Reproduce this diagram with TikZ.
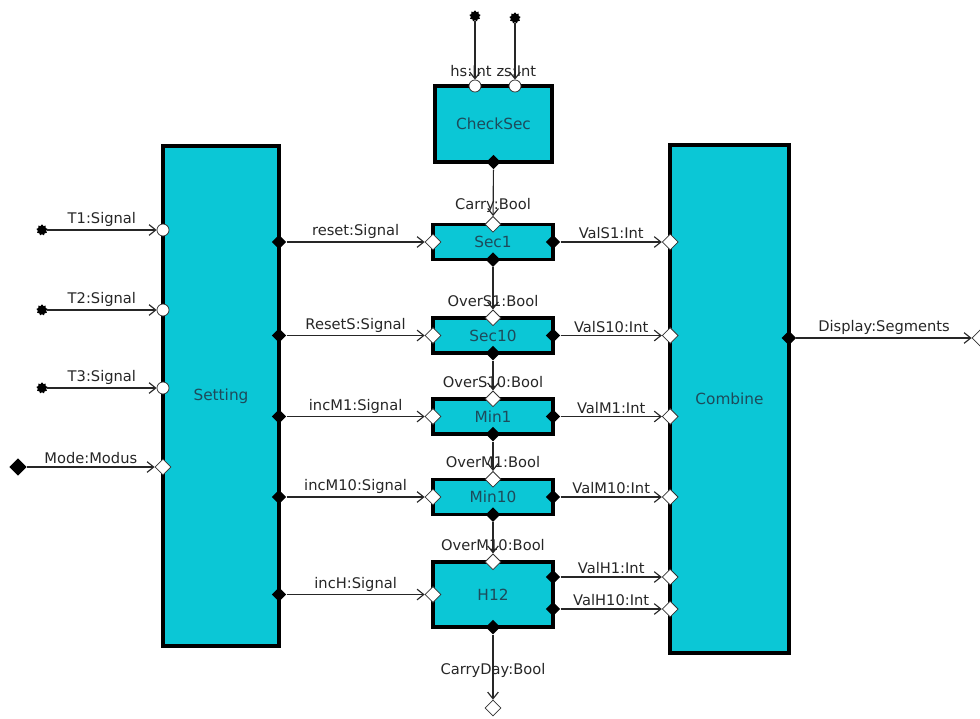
\documentclass[tikz,border=0pt]{standalone}
\usepackage{fontspec}
\setsansfont{DejaVu Sans}
\usepackage{tikz}
\usetikzlibrary{arrows.meta,positioning,shapes.geometric}
\definecolor{cyanfill}{HTML}{0BC7D6}
\definecolor{boxtext}{HTML}{1D4B5B}
\tikzset{
  block/.style={draw=black,line width=2.6pt,fill=cyanfill,text=boxtext,outer sep=0pt,inner sep=0pt,font=\sffamily\fontsize{11.5}{13}\selectfont},
  wire/.style={draw=black!85,line width=.85pt,-{Straight Barb[length=5pt,width=8pt]}},
  inport/.style={diamond,draw=black!80,fill=white,line width=.55pt,minimum width=12pt,minimum height=12pt,inner sep=0pt},
  outport/.style={diamond,fill=black,minimum width=11pt,minimum height=11pt,inner sep=0pt},
  inpin/.style={circle,draw=black!80,fill=white,line width=.55pt,minimum size=9pt,inner sep=0pt},
  src/.style={star,star points=9,star point ratio=1.35,fill=black,minimum size=8.5pt,inner sep=0pt},
  lbl/.style={font=\sffamily\fontsize{11}{13}\selectfont,text=black!85,inner sep=2pt}
}

\begin{document}
\begin{tikzpicture}[x=.75pt,y=-.75pt]
  \useasboundingbox (0,0) rectangle (980,718);

  % blocks
  \node[block,minimum width=87pt,minimum height=375pt] (setting) at (221,396) {Setting};
  \node[block,minimum width=89pt,minimum height=381pt] (combine) at (729.5,399) {Combine};
  \node[block,minimum width=88pt,minimum height=57pt] (checksec) at (493.5,124) {CheckSec};
  \foreach \n/\y/\t in {sec1/242/Sec1,sec10/335.5/Sec10,min1/416.5/Min1,min10/497/Min10}
    \node[block,minimum width=90pt,minimum height=26.5pt] (\n) at (493,\y) {\t};
  \node[block,minimum width=90pt,minimum height=49pt] (h12) at (493,594.5) {H12};

  % ports of the counters
  \foreach \n in {sec1,sec10,min1,min10,h12} {
    \node[inport] (\n-in) at (\n.west) {};
    \node[inport] (\n-top) at (\n.north) {};
    \node[outport] (\n-bot) at (\n.south) {};
  }
  \foreach \n in {sec1,sec10,min1,min10}
    \node[outport] (\n-out) at (\n.east) {};
  \node[outport] (h12-out1) at (h12.east |- 0,577) {};
  \node[outport] (h12-out2) at (h12.east |- 0,609) {};

  % buttons into Setting
  \foreach \i/\y in {1/230,2/310,3/388} {
    \node[src] (src\i) at (42,\y) {};
    \node[inpin] (t\i) at (setting.west |- src\i) {};
    \draw[wire] (src\i) -- node[lbl,above] (t\i-lbl) {T\i:Signal} (t\i);
  }
  \node[outport,minimum width=13pt,minimum height=13pt] (modesrc) at (18,467) {};
  \node[inport] (mode) at (setting.west |- modesrc) {};
  \draw[wire] (modesrc) -- node[lbl,above] (mode-lbl) {Mode:Modus} (mode);

  % Setting -> counters
  \foreach \n/\t in {sec1/reset:Signal,sec10/ResetS:Signal,min1/incM1:Signal,min10/incM10:Signal,h12/incH:Signal} {
    \node[outport] (set-\n) at (setting.east |- \n-in) {};
    \draw[wire] (set-\n) -- node[lbl,above] (lbl-\n) {\t} (\n-in);
  }

  % counters -> Combine
  \foreach \n/\t in {sec1-out/ValS1:Int,sec10-out/ValS10:Int,min1-out/ValM1:Int,min10-out/ValM10:Int,h12-out1/ValH1:Int,h12-out2/ValH10:Int} {
    \node[inport] (cmb-\n) at (combine.west |- \n) {};
    \draw[wire] (\n) -- node[lbl,above] (lbl-\n) {\t} (cmb-\n);
  }

  % CheckSec and the carry chain
  \node[src] (hs-src) at (475,16) {};
  \node[src] (zs-src) at (515,18) {};
  \node[inpin] (hs) at (checksec.north -| hs-src) {};
  \node[inpin] (zs) at (checksec.north -| zs-src) {};
  \draw[wire] (hs-src) -- (hs);
  \draw[wire] (zs-src) -- (zs);
  \node[lbl,above=0pt of hs,xshift=-3pt] (hs-lbl) {hs:Int};
  \node[lbl,above=0pt of zs,xshift=1pt] (zs-lbl) {zs:Int};

  \node[outport] (carry) at (checksec.south) {};
  \draw[wire] (carry) -- (sec1-top);
  \node[lbl,above=0pt of sec1-top] (carry-lbl) {Carry:Bool};
  \foreach \a/\b/\t in {sec1/sec10/OverS1:Bool,sec10/min1/OverS10:Bool,min1/min10/OverM1:Bool,min10/h12/OverM10:Bool} {
    \draw[wire] (\a-bot) -- (\b-top);
    \node[lbl,above=0pt of \b-top] (over-\a) {\t};
  }

  \node[inport] (carryday) at (h12.south |- 0,708) {};
  \draw[wire] (h12-bot) -- node[lbl,pos=.55] (carryday-lbl) {CarryDay:Bool} (carryday);

  % Combine -> display
  \node[outport] (display) at (combine.east |- 0,338) {};
  \node[inport] (display-end) at (980,338) {};
  \draw[wire] (display) -- node[lbl,above] (display-lbl) {Display:Segments} (display-end);
\end{tikzpicture}
\end{document}
